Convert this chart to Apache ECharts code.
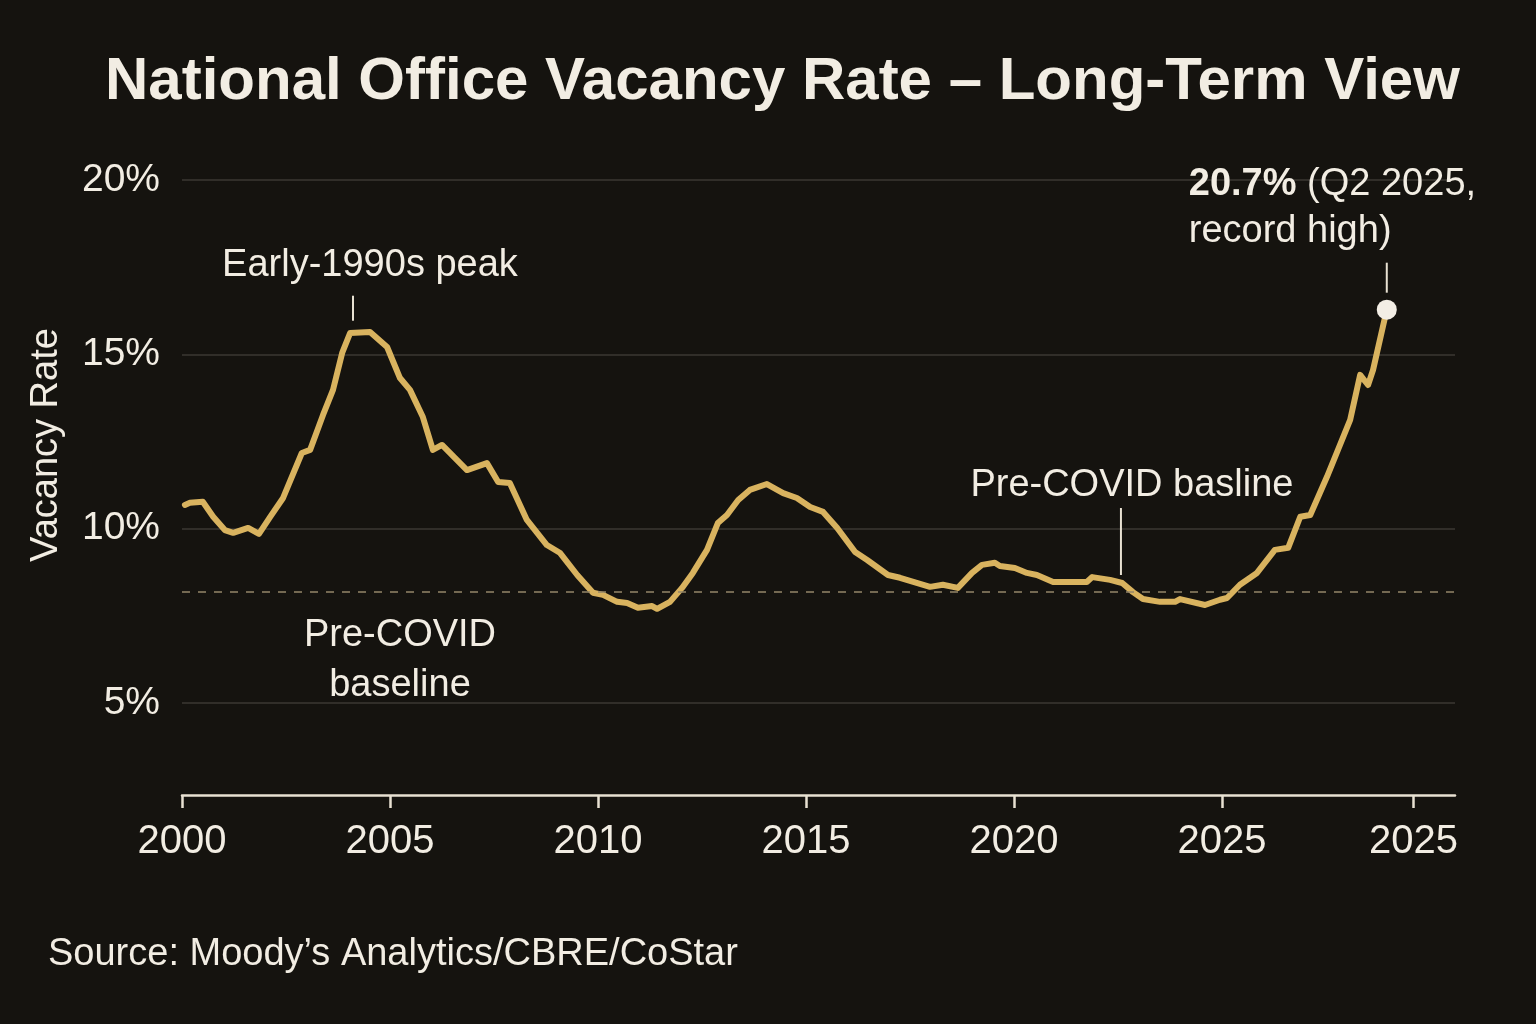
<!DOCTYPE html>
<html>
<head>
<meta charset="utf-8">
<title>National Office Vacancy Rate</title>
<script src="https://cdn.jsdelivr.net/npm/echarts@6/dist/echarts.min.js"></script>
<style>
  html, body { margin: 0; padding: 0; background: #15130f; }
  #chart { width: 1536px; height: 1024px; }
</style>
</head>
<body>
<div id="chart"></div>
<script>
// values (x is the chart's own year scale)
var years = [2000.07, 2000.19, 2000.50, 2000.75, 2001.03, 2001.23, 2001.59, 2001.85, 2002.12, 2002.43,
  2002.88, 2003.08, 2003.39, 2003.63, 2003.85, 2004.04, 2004.52, 2004.93, 2005.24, 2005.48,
  2005.79, 2006.03, 2006.25, 2006.85, 2007.33, 2007.60, 2007.88, 2008.29, 2008.77, 2009.09,
  2009.50, 2009.88, 2010.12, 2010.46, 2010.70, 2010.96, 2011.30, 2011.42, 2011.73, 2012.02,
  2012.28, 2012.62, 2012.88, 2013.10, 2013.37, 2013.65, 2014.06, 2014.45, 2014.78, 2015.10,
  2015.41, 2015.75, 2016.18, 2016.47, 2016.97, 2017.26, 2017.98, 2018.29, 2018.65, 2018.99,
  2019.23, 2019.54, 2019.66, 2020.02, 2020.31, 2020.55, 2020.94, 2021.42, 2021.75, 2021.88,
  2022.31, 2022.60, 2022.86, 2023.10, 2023.51, 2023.87, 2023.99, 2024.59, 2024.95, 2025.12,
  2025.43, 2025.84, 2026.27, 2026.59, 2026.88, 2027.12, 2027.52, 2028.08, 2028.32, 2028.51,
  2028.63, 2028.96];
var rates = [10.68, 10.74, 10.77, 10.34, 9.96, 9.88, 10.02, 9.85, 10.34, 10.88,
  12.17, 12.26, 13.26, 13.98, 15.04, 15.61, 15.64, 15.21, 14.32, 13.98,
  13.20, 12.26, 12.40, 11.68, 11.88, 11.34, 11.31, 10.25, 9.53, 9.30,
  8.67, 8.16, 8.10, 7.90, 7.87, 7.73, 7.78, 7.70, 7.90, 8.30,
  8.73, 9.39, 10.16, 10.39, 10.82, 11.11, 11.28, 11.02, 10.88, 10.62,
  10.48, 10.02, 9.33, 9.10, 8.67, 8.59, 8.33, 8.39, 8.30, 8.73,
  8.96, 9.02, 8.93, 8.87, 8.73, 8.67, 8.47, 8.47, 8.47, 8.61,
  8.53, 8.44, 8.18, 7.98, 7.90, 7.90, 7.98, 7.81, 7.96, 8.01,
  8.39, 8.73, 9.39, 9.45, 10.34, 10.39, 11.48, 13.12, 14.41, 14.12,
  14.55, 16.28];

var tickYears = [2000, 2005, 2010, 2015, 2020, 2025, 2029.6];
var tickLabels = ['2000', '2005', '2010', '2015', '2020', '2025', '2025'];
var rateTicks = [5, 10, 15, 20];
var baseline = 8.18;

// annotation anchors (data coords)
var peakPoint = [2004.11, 15.62];
var preCovidPoint = [2022.57, 8.44];
var baselineLabelYear = 2005.24;

var cream = '#f2ede3';
var gold = '#d9b35f';
var font = '"Liberation Sans", Arial, Helvetica, sans-serif';

var chart = echarts.init(document.getElementById('chart'));

var lineData = years.map(function (y, i) { return [y, rates[i]]; });
var lastPoint = lineData[lineData.length - 1];

var option = {
  backgroundColor: '#15130f',
  animation: false,
  title: {
    text: 'National Office Vacancy Rate \u2013 Long-Term View',
    left: 100,
    top: 47,
    textStyle: { color: cream, fontSize: 60, fontWeight: 'bold', fontFamily: font }
  },
  grid: { left: 182, right: 81, top: 180, bottom: 229 },
  xAxis: {
    type: 'value',
    min: 2000,
    max: 2030.6,
    axisLine: { show: true, lineStyle: { color: '#e8e1d2', width: 2.5 } },
    axisTick: { show: true, customValues: tickYears, length: 13, lineStyle: { color: '#e8e1d2', width: 2.5 } },
    axisLabel: {
      customValues: tickYears,
      color: cream, fontSize: 40, fontFamily: font, margin: 27,
      formatter: function (v) {
        var i = tickYears.indexOf(v);
        return i >= 0 ? tickLabels[i] : '';
      }
    },
    splitLine: { show: false }
  },
  yAxis: {
    type: 'value',
    min: 2.36,
    max: 20,
    axisLine: { show: false },
    axisTick: { show: true, customValues: rateTicks, length: 0, lineStyle: { width: 0 } },
    axisLabel: { customValues: rateTicks, color: cream, fontSize: 39, fontFamily: font, margin: 22, formatter: '{value}%' },
    splitLine: { show: true, lineStyle: { color: '#3b3833', width: 1.5 } }
  },
  series: [
    {
      type: 'line',
      data: lineData,
      showSymbol: false,
      symbol: 'none',
      z: 3,
      lineStyle: { color: gold, width: 6, join: 'round', cap: 'round' },
      markLine: {
        silent: true,
        symbol: 'none',
        label: { show: false },
        lineStyle: { color: '#94866a', type: [8, 8], width: 1.5 },
        data: [{ yAxis: baseline }]
      }
    },
    {
      type: 'scatter',
      data: [lastPoint],
      symbolSize: 20,
      z: 5,
      itemStyle: { color: '#f3eee5', opacity: 1 }
    }
  ]
};
chart.setOption(option);

function px(p) { return chart.convertToPixel({ gridIndex: 0 }, p); }

var peak = px(peakPoint);
var pre = px(preCovidPoint);
var rec = px(lastPoint);
var base = px([baselineLabelYear, baseline]);

function leader(x, y1, y2) {
  return { type: 'line', shape: { x1: x, y1: y1, x2: x, y2: y2 }, style: { stroke: '#e8e1d2', lineWidth: 2 } };
}
function label(text, x, y, align, extra) {
  var st = { text: text, x: x, y: y, fill: cream, fontSize: 38, fontFamily: font, align: align || 'center', verticalAlign: 'middle', lineHeight: 48 };
  if (extra) for (var k in extra) st[k] = extra[k];
  return { type: 'text', z: 10, style: st };
}

chart.setOption({
  graphic: [
    leader(peak[0], peak[1] - 37, peak[1] - 12),
    label('Early-1990s peak', peak[0] + 17, peak[1] - 67),
    leader(pre[0], pre[1] - 75, pre[1] - 8),
    label('Pre-COVID basline', pre[0] + 11, pre[1] - 98),
    label('Pre-COVID\nbaseline', base[0], base[1] + 68, 'center', { lineHeight: 50 }),
    leader(rec[0], rec[1] - 47, rec[1] - 17),
    label('{b|20.7%} (Q2 2025,\nrecord high)', rec[0] - 198, rec[1] - 102, 'left', {
      lineHeight: 47,
      rich: { b: { fontSize: 38, fontWeight: 'bold', fill: cream, fontFamily: font } }
    }),
    {
      type: 'text', x: 47, y: 445, rotation: Math.PI / 2,
      style: { text: 'Vacancy Rate', fill: cream, fontSize: 38, fontFamily: font, align: 'center', verticalAlign: 'middle' }
    },
    label('Source: Moody\u2019s Analytics/CBRE/CoStar', 48, 955, 'left')
  ]
});
</script>
</body>
</html>
